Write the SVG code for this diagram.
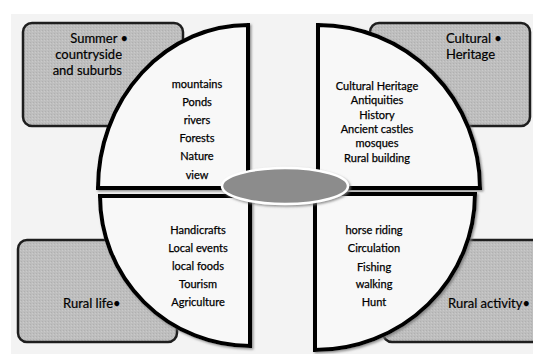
<svg xmlns="http://www.w3.org/2000/svg" width="533" height="354" viewBox="0 0 533 354">
<defs>
<pattern id="stip" width="3" height="3" patternUnits="userSpaceOnUse">
<rect width="3" height="3" fill="#bebebe"/>
<rect x="0" y="0" width="1" height="1" fill="#b0b0b0"/>
<rect x="2" y="1" width="1" height="1" fill="#cacaca"/>
</pattern>
<filter id="sh" x="-10%" y="-10%" width="125%" height="125%">
<feDropShadow dx="1.5" dy="1.5" stdDeviation="1.2" flood-color="#777" flood-opacity="0.8"/>
</filter>
</defs>
<style>
.box{fill:url(#stip);stroke:#1e1e1e;stroke-width:2.5}
.q{fill:#f8f8f8;stroke:#000;stroke-width:4;stroke-linejoin:miter;filter:url(#sh)}
.t{font-family:Lato,"Open Sans",sans-serif;font-size:11px;fill:#000;stroke:#000;stroke-width:0.25;text-anchor:middle}
.h{font-family:Lato,"Open Sans",sans-serif;font-size:13px;fill:#000;stroke:#000;stroke-width:0.2}
</style>
<rect x="0" y="0" width="533" height="354" fill="#fff"/>
<rect x="11" y="14" width="522" height="340" fill="#f3f3f3"/>
<g id="summer-box">
<rect class="box" x="23" y="23" width="160" height="103" rx="9"/>
<text class="h" x="128" y="43" text-anchor="end">Summer •</text>
<text class="h" x="122" y="59" text-anchor="end">countryside</text>
<text class="h" x="122" y="75" text-anchor="end">and suburbs</text>
</g>
<g id="cultural-box">
<rect class="box" x="370" y="23" width="160" height="103" rx="9"/>
<text class="h" x="446" y="43">Cultural •</text>
<text class="h" x="446" y="59">Heritage</text>
</g>
<g id="rural-life-box">
<rect class="box" x="18" y="240" width="159" height="102" rx="9"/>
<text class="h" x="63" y="308">Rural life•</text>
</g>
<g id="rural-activity-box">
<rect class="box" x="383" y="240" width="160" height="102" rx="9"/>
<text class="h" x="448" y="308">Rural activity•</text>
</g>
<g id="nature-quarter">
<path class="q" d="M248,188 L98,188 A150,163 0 0 1 248,25 Z"/>
<text class="t" x="197" y="88">mountains</text>
<text class="t" x="197" y="106">Ponds</text>
<text class="t" x="197" y="124">rivers</text>
<text class="t" x="197" y="142">Forests</text>
<text class="t" x="197" y="160">Nature</text>
<text class="t" x="197" y="179">view</text>
</g>
<g id="heritage-quarter">
<path class="q" d="M318,188 L318,25 A162,163 0 0 1 480,188 Z"/>
<text class="t" x="377" y="90">Cultural Heritage</text>
<text class="t" x="377" y="104">Antiquities</text>
<text class="t" x="377" y="119">History</text>
<text class="t" x="377" y="133">Ancient castles</text>
<text class="t" x="377" y="147">mosques</text>
<text class="t" x="377" y="162">Rural building</text>
</g>
<g id="life-quarter">
<path class="q" d="M250,196 L250,346 A150,150 0 0 1 100,196 Z"/>
<text class="t" x="198" y="234">Handicrafts</text>
<text class="t" x="198" y="252">Local events</text>
<text class="t" x="198" y="270">local foods</text>
<text class="t" x="198" y="288">Tourism</text>
<text class="t" x="198" y="306">Agriculture</text>
</g>
<g id="activity-quarter">
<path class="q" d="M315,194 L475,194 A160,156 0 0 1 315,350 Z"/>
<text class="t" x="374" y="234">horse riding</text>
<text class="t" x="374" y="252">Circulation</text>
<text class="t" x="374" y="271">Fishing</text>
<text class="t" x="374" y="288">walking</text>
<text class="t" x="374" y="306">Hunt</text>
</g>
<g id="center">
<ellipse cx="285" cy="186" rx="63" ry="18" fill="#8c8c8c" stroke="#fff" stroke-width="2.5" filter="url(#sh)"/>
</g>
</svg>
